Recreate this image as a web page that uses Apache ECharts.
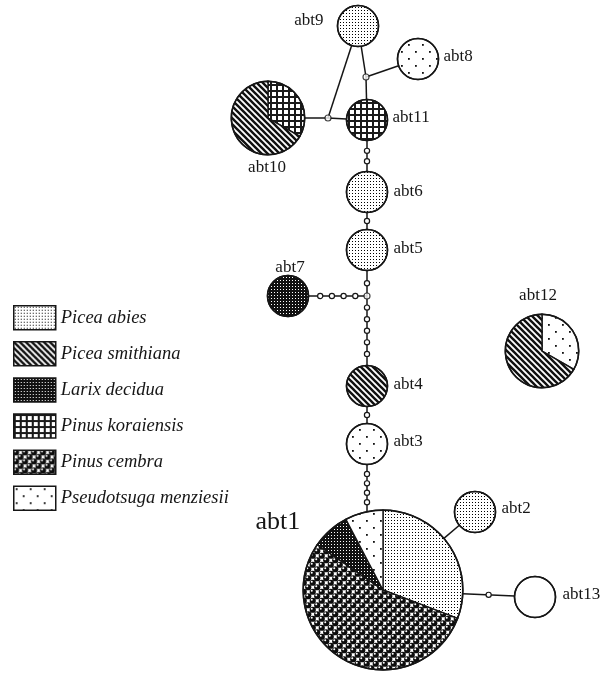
<!DOCTYPE html>
<html>
<head>
<meta charset="utf-8">
<script src="https://cdn.jsdelivr.net/npm/echarts@6/dist/echarts.min.js"></script>
<style>
  html, body { margin: 0; padding: 0; background: #fff; }
  #chart { width: 606px; height: 673px; }
</style>
</head>
<body>
<div id="chart"></div>
<script>
  // haplotypes and their place in the network layout
  const haplotypes = ['abt1', 'abt2', 'abt3', 'abt4', 'abt5', 'abt6', 'abt7', 'abt8', 'abt9', 'abt10', 'abt11', 'abt12', 'abt13']
  const hapX = [383, 475, 367, 367, 367, 367, 288, 418, 358, 268, 367, 542, 535]
  const hapY = [590, 512, 444, 386, 250, 192, 296, 59, 26, 118, 120, 351, 597]

  // number of individuals of each species per haplotype
  const species = ['Picea abies', 'Picea smithiana', 'Larix decidua', 'Pinus koraiensis', 'Pinus cembra', 'Pseudotsuga menziesii']
  const piceaAbies = [4, 1, 0, 0, 1, 1, 0, 0, 1, 0, 0, 0, 0]
  const piceaSmithiana = [0, 0, 0, 1, 0, 0, 0, 0, 0, 2, 0, 2, 0]
  const larixDecidua = [1, 0, 0, 0, 0, 0, 1, 0, 0, 0, 0, 0, 0]
  const pinusKoraiensis = [0, 0, 0, 0, 0, 0, 0, 0, 0, 1, 1, 0, 0]
  const pinusCembra = [7, 0, 0, 0, 0, 0, 0, 0, 0, 0, 0, 0, 0]
  const pseudotsuga = [1, 0, 1, 0, 0, 0, 0, 1, 0, 0, 0, 1, 0]
  const unassigned = [0, 0, 0, 0, 0, 0, 0, 0, 0, 0, 0, 0, 1]

  // median vectors (drawn as small circles) and a rim point where the main chain meets abt1
  const junctions = ['mv1', 'mv2', 'mv3']
  const junctionX = [366, 328, 367]
  const junctionY = [77, 118, 296]
  const rimX = [367]
  const rimY = [511.6]

  // links: from, to, number of mutational steps drawn as small circles
  const links = [
    ['abt9', 'mv1', 0], ['mv1', 'abt11', 0], ['mv1', 'abt8', 0],
    ['abt9', 'mv2', 0], ['abt10', 'mv2', 0], ['mv2', 'abt11', 0],
    ['abt11', 'abt6', 2], ['abt6', 'abt5', 1], ['abt5', 'mv3', 1],
    ['abt7', 'mv3', 4], ['mv3', 'abt4', 5], ['abt4', 'abt3', 1],
    ['abt3', 'rim1', 4], ['abt2', 'abt1', 0], ['abt13', 'abt1', 1]
  ]

  // slice order going clockwise from 12 o'clock
  const sliceOrder = [piceaAbies, pinusCembra, larixDecidua, pinusKoraiensis, pseudotsuga, piceaSmithiana, unassigned]

  function tile (size, bg, draw) {
    const c = document.createElement('canvas')
    c.width = c.height = size
    const ctx = c.getContext('2d')
    ctx.fillStyle = bg
    ctx.fillRect(0, 0, size, size)
    draw(ctx, size)
    return { image: c, repeat: 'repeat' }
  }
  function dots (ctx, pts, r, color) {
    ctx.fillStyle = color
    pts.forEach(p => { ctx.beginPath(); ctx.arc(p[0], p[1], r, 0, Math.PI * 2); ctx.fill() })
  }

  const fillAbies = tile(3, '#fff', (ctx) => { ctx.fillStyle = '#000'; ctx.fillRect(1, 1, 1, 1) })
  const fillSmithiana = tile(6, '#fff', (ctx) => {
    ctx.strokeStyle = '#111'
    ctx.lineWidth = 2.4
    ;[[-1, -1, 7, 7], [5, -1, 7, 1], [-1, 5, 1, 7]].forEach(l => {
      ctx.beginPath(); ctx.moveTo(l[0], l[1]); ctx.lineTo(l[2], l[3]); ctx.stroke()
    })
  })
  const fillLarix = tile(3, '#111', (ctx) => { ctx.fillStyle = '#fff'; ctx.fillRect(1, 1, 1, 1) })
  const fillKoraiensis = tile(6, '#fff', (ctx) => {
    ctx.fillStyle = '#1a1a1a'
    ctx.fillRect(0, 0, 6, 2)
    ctx.fillRect(0, 0, 2, 6)
  })
  const fillCembra = tile(9, '#fff', (ctx) => {
    const c = [[2.25, 2.25], [6.75, 6.75], [11.25, 2.25], [-2.25, 6.75], [2.25, 11.25], [6.75, -2.25], [-2.25, -2.25], [11.25, 11.25]]
    dots(ctx, c, 3.1, '#0d0d0d')
    dots(ctx, c.map(p => [p[0] - 1, p[1] - 1]), 1.0, '#fff')
  })
  const fillPseudo = tile(14, '#fff', (ctx) => {
    ctx.fillStyle = '#111'
    ctx.fillRect(2, 2, 1.8, 1.8)
    ctx.fillRect(9, 9, 1.8, 1.8)
  })
  const fills = new Map([
    [piceaAbies, fillAbies], [piceaSmithiana, fillSmithiana], [larixDecidua, fillLarix],
    [pinusKoraiensis, fillKoraiensis], [pinusCembra, fillCembra], [pseudotsuga, fillPseudo], [unassigned, '#fff']
  ])
  const legendFills = [fillAbies, fillSmithiana, fillLarix, fillKoraiensis, fillCembra, fillPseudo]

  const font = '"Liberation Serif", "DejaVu Serif", serif'
  const ink = '#161616'
  // label side, gap from the circle, shift along the other axis, font size
  const labelPlace = {
    abt1: ['left', 3, -68, 26], abt2: ['right', 6, -3], abt3: ['right', 6, -2], abt4: ['right', 6, -1],
    abt5: ['right', 6, -1], abt6: ['right', 6, 0], abt7: ['top', 8, 2], abt8: ['right', 5, -2],
    abt9: ['left', 14, -5], abt10: ['bottom', 13, -1], abt11: ['right', 5, -2], abt12: ['top', 19, -4],
    abt13: ['right', 7, -2]
  }

  function totalOf (i) { return sliceOrder.reduce((s, arr) => s + arr[i], 0) }
  function radiusOf (n) { return 20.5 * Math.pow(n, 0.53) }

  function nodeInfo (name) {
    let i = haplotypes.indexOf(name)
    if (i >= 0) return [hapX[i], hapY[i], radiusOf(totalOf(i))]
    i = junctions.indexOf(name)
    if (i >= 0) return [junctionX[i], junctionY[i], 0]
    return [rimX[0], rimY[0], 0]
  }

  const linkData = links.map(l => {
    const a = nodeInfo(l[0])
    const b = nodeInfo(l[1])
    return [a[0], a[1], b[0], b[1], a[2], b[2], l[2]]
  })

  function renderLink (params, api) {
    const p = api.coord([api.value(0), api.value(1)])
    const q = api.coord([api.value(2), api.value(3)])
    const r1 = api.value(4)
    const r2 = api.value(5)
    const n = api.value(6)
    const dx = q[0] - p[0]
    const dy = q[1] - p[1]
    const len = Math.hypot(dx, dy)
    const ux = dx / len
    const uy = dy / len
    const s = [p[0] + ux * r1, p[1] + uy * r1]
    const e = [q[0] - ux * r2, q[1] - uy * r2]
    const children = [{
      type: 'line',
      shape: { x1: s[0], y1: s[1], x2: e[0], y2: e[1] },
      style: { stroke: ink, lineWidth: 1.5 }
    }]
    for (let k = 1; k <= n; k++) {
      const t = k / (n + 1)
      children.push({
        type: 'circle',
        shape: { cx: s[0] + (e[0] - s[0]) * t, cy: s[1] + (e[1] - s[1]) * t, r: 2.6 },
        style: { fill: '#fff', stroke: ink, lineWidth: 1.2 }
      })
    }
    return { type: 'group', children }
  }

  function renderHaplotype (params, api) {
    const i = api.value(2)
    const c = api.coord([api.value(0), api.value(1)])
    const total = totalOf(i)
    const r = radiusOf(total)
    const parts = sliceOrder.filter(arr => arr[i] > 0)
    const children = []
    let a = -Math.PI / 2
    parts.forEach(arr => {
      const fill = fills.get(arr)
      if (parts.length === 1) {
        children.push({ type: 'circle', shape: { cx: c[0], cy: c[1], r }, style: { fill, stroke: ink, lineWidth: 1.4 } })
      } else {
        const end = a + arr[i] / total * Math.PI * 2
        children.push({
          type: 'sector',
          shape: { cx: c[0], cy: c[1], r0: 0, r, startAngle: a, endAngle: end, clockwise: true },
          style: { fill, stroke: ink, lineWidth: 1.4 }
        })
        a = end
      }
    })
    children.push({ type: 'circle', shape: { cx: c[0], cy: c[1], r }, style: { fill: 'none', stroke: ink, lineWidth: 1.6 } })

    const name = haplotypes[i]
    const lp = labelPlace[name]
    const size = lp[3] || 17
    let x = c[0]
    let y = c[1]
    let align = 'center'
    if (lp[0] === 'right') { x = c[0] + r + lp[1]; y = c[1] + lp[2]; align = 'left' }
    if (lp[0] === 'left') { x = c[0] - r - lp[1]; y = c[1] + lp[2]; align = 'right' }
    if (lp[0] === 'top') { y = c[1] - r - lp[1]; x = c[0] + lp[2] }
    if (lp[0] === 'bottom') { y = c[1] + r + lp[1]; x = c[0] + lp[2] }
    children.push({
      type: 'text',
      style: { text: name, x, y, align, verticalAlign: 'middle', fill: ink, font: size + 'px ' + font }
    })
    return { type: 'group', children }
  }

  const chart = echarts.init(document.getElementById('chart'))
  const option = {
    animation: false,
    backgroundColor: '#fff',
    grid: { left: 0, right: 0, top: 0, bottom: 0 },
    xAxis: { type: 'value', min: 0, max: 606, show: false },
    yAxis: { type: 'value', min: 0, max: 673, inverse: true, show: false },
    legend: {
      orient: 'vertical',
      left: 8,
      top: 300,
      itemWidth: 42,
      itemHeight: 24,
      itemGap: 10.6,
      icon: 'rect',
      selectedMode: false,
      itemStyle: { borderColor: ink, borderWidth: 1.5 },
      textStyle: { fontFamily: font, fontStyle: 'italic', fontSize: 18.5, color: ink },
      data: species
    },
    series: [
      {
        type: 'custom',
        z: 1,
        renderItem: renderLink,
        data: linkData
      },
      {
        type: 'scatter',
        z: 2,
        symbol: 'circle',
        symbolSize: 6,
        itemStyle: { color: '#fff', borderColor: ink, borderWidth: 1.2 },
        data: junctions.map((n, i) => [junctionX[i], junctionY[i]])
      },
      {
        type: 'custom',
        z: 3,
        renderItem: renderHaplotype,
        data: haplotypes.map((n, i) => [hapX[i], hapY[i], i])
      }
    ].concat(species.map((s, i) => ({
      type: 'custom',
      name: s,
      data: [],
      renderItem: () => null,
      itemStyle: { color: legendFills[i] }
    })))
  }
  chart.setOption(option)
</script>
</body>
</html>
